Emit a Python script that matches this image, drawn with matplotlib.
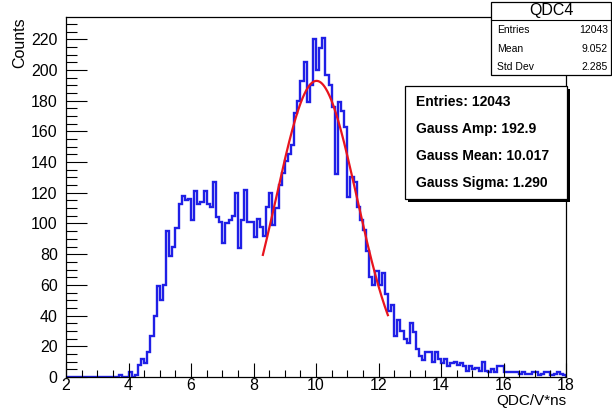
import numpy as np
import matplotlib
matplotlib.use('Agg')
import matplotlib.pyplot as plt
from matplotlib.patches import Rectangle
from matplotlib.ticker import MultipleLocator

plt.rcParams['font.family'] = ['Liberation Sans', 'DejaVu Sans']

# histogram: 160 bins of 0.1 from 2.0 to 18.0
bin_edges = np.round(np.arange(2.0, 18.0001, 0.1), 2)
counts = [
    0, 0, 0, 0, 0, 0, 0, 0, 0, 0,              # 2.0 - 2.9
    0, 0, 0, 0, 0, 0, 0, 1, 0, 0,              # 3.0 - 3.9
    3, 0, 1, 8, 12, 9, 16, 27, 40, 59,         # 4.0 - 4.9
    50, 60, 95, 79, 85, 97, 113, 118, 115, 116,  # 5.0 - 5.9
    102, 121, 113, 114, 121, 113, 111, 127, 104, 101,  # 6.0 - 6.9
    87, 100, 102, 105, 120, 84, 102, 122, 101, 101,    # 7.0 - 7.9
    91, 103, 98, 92, 111, 120, 99, 110, 125, 133,      # 8.0 - 8.9
    141, 145, 151, 172, 180, 193, 205, 179, 190, 220,  # 9.0 - 9.9
    200, 214, 221, 197, 190, 176, 132, 179, 173, 163,  # 10.0 - 10.9
    117, 130, 127, 111, 102, 96, 82, 65, 60, 69,       # 11.0 - 11.9
    60, 68, 54, 43, 47, 27, 37, 30, 25, 22,            # 12.0 - 12.9
    35, 29, 18, 14, 11, 16, 16, 10, 16, 12,            # 13.0 - 13.9
    9, 12, 7, 9, 10, 8, 9, 7, 4, 7,                    # 14.0 - 14.9
    5, 6, 4, 10, 4, 3, 5, 3, 7, 7,                     # 15.0 - 15.9
    3, 3, 3, 3, 3, 2, 3, 2, 2, 3,                      # 16.0 - 16.9
    3, 1, 2, 3, 3, 1, 2, 3, 2, 1,                      # 17.0 - 17.9
]

# gaussian fit shown in the box
gauss_amp = 192.9
gauss_mean = 10.017
gauss_sigma = 1.290
fit_range = (8.3, 12.3)

stats_rows = [("Entries", "12043"), ("Mean", "9.052"), ("Std Dev", "2.285")]
fit_lines = ["Entries: 12043", "Gauss Amp: 192.9", "Gauss Mean: 10.017", "Gauss Sigma: 1.290"]

W, H = 612, 409
fig = plt.figure(figsize=(W / 100, H / 100), dpi=100)

def fx(x):
    return x / W

def fy(y):
    return 1 - y / H

ax = fig.add_axes([fx(66), fy(377), fx(566) - fx(66), fy(17) - fy(377)])

ax.stairs(counts, bin_edges, color='#1f1fe6', lw=1.7, baseline=0)

xf = np.linspace(fit_range[0], fit_range[1], 200)
yf = gauss_amp * np.exp(-0.5 * ((xf - gauss_mean) / gauss_sigma) ** 2)
ax.plot(xf, yf, color='#e8141e', lw=1.6)

ax.set_xlim(2, 18)
ax.set_ylim(0, 234.5)
ax.xaxis.set_major_locator(MultipleLocator(2))
ax.xaxis.set_minor_locator(MultipleLocator(0.5))
ax.yaxis.set_major_locator(MultipleLocator(20))
ax.yaxis.set_minor_locator(MultipleLocator(5))
ax.tick_params(axis='both', which='both', direction='in', color='black', width=0.8)
ax.tick_params(axis='x', which='major', length=10, labelsize=11.5, pad=1)
ax.tick_params(axis='x', which='minor', length=5)
ax.tick_params(axis='y', which='major', length=15, labelsize=11.5, pad=6)
ax.tick_params(axis='y', which='minor', length=8)
for s in ax.spines.values():
    s.set_linewidth(0.9)

fig.text(fx(566), fy(408), "QDC/V*ns", ha='right', va='bottom', fontsize=11)
fig.text(fx(20), fy(17), "Counts", ha='center', va='top', rotation=90, fontsize=11.5)

# stats box (top right)
fig.patches.append(Rectangle((fx(491), fy(75)), fx(611) - fx(491), fy(2) - fy(75),
                             transform=fig.transFigure, facecolor='white',
                             edgecolor='black', lw=0.9, zorder=5))
fig.lines.append(plt.Line2D([fx(491), fx(611)], [fy(20), fy(20)],
                            transform=fig.transFigure, color='black', lw=0.8, zorder=6))
fig.text(fx(551), fy(11), "QDC4", ha='center', va='center', fontsize=11.5, zorder=7)
for i, (k, v) in enumerate(stats_rows):
    yy = fy(30 + i * 18.5)
    fig.text(fx(497), yy, k, ha='left', va='center', fontsize=7.5, zorder=7)
    fig.text(fx(608), yy, v, ha='right', va='center', fontsize=7.5, zorder=7)

# fit result box with shadow
fig.patches.append(Rectangle((fx(408), fy(202)), fx(570) - fx(408), fy(89) - fy(202),
                             transform=fig.transFigure, facecolor='black',
                             edgecolor='black', lw=0, zorder=5))
fig.patches.append(Rectangle((fx(405), fy(199)), fx(567) - fx(405), fy(86) - fy(199),
                             transform=fig.transFigure, facecolor='white',
                             edgecolor='black', lw=0.9, zorder=6))
for i, t in enumerate(fit_lines):
    fig.text(fx(416), fy(102 + i * 27), t, ha='left', va='center', fontsize=10,
             fontweight='bold', zorder=7)

fig.savefig('out.png', dpi=100)
